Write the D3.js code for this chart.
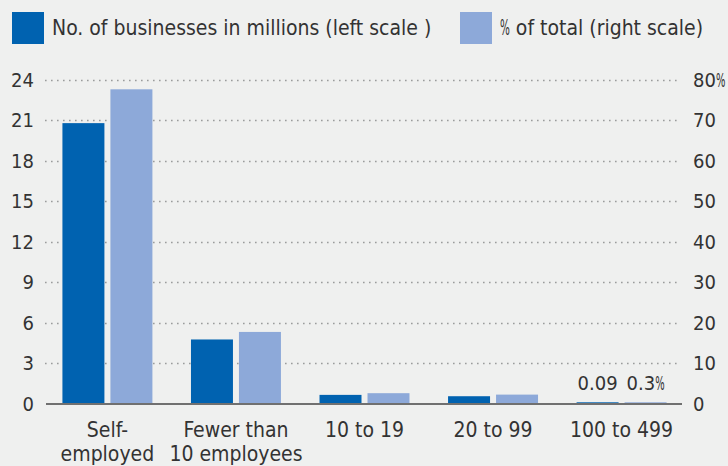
<!DOCTYPE html>
<html>
<head>
<meta charset="utf-8">
<script src="https://cdn.jsdelivr.net/npm/d3@7"></script>
<style>
  body { margin: 0; background: #eff0ef; }
  svg { display: block; font-family: "Liberation Sans Narrow", "DejaVu Sans Condensed", sans-serif; }
</style>
</head>
<body>
<svg id="chart"></svg>
<script>
// data
const categories = ['Self-employed', 'Fewer than 10 employees', '10 to 19', '20 to 99', '100 to 499'];
const catLines = [['Self-', 'employed'], ['Fewer than', '10 employees'], ['10 to 19'], ['20 to 99'], ['100 to 499']];
const businesses = [20.8, 4.75, 0.64, 0.54, 0.09];   // millions, left scale
const pctTotal = [77.7, 17.7, 2.55, 2.2, 0.3];       // %, right scale
const leftTicks = [0, 3, 6, 9, 12, 15, 18, 21, 24];
const rightTicks = [0, 10, 20, 30, 40, 50, 60, 70, 80];
const seriesNames = ['No. of businesses in millions (left scale )', '% of total (right scale)'];

const W = 728, H = 466;
const dark = '#0062b0', light = '#8da9d9';
const textCol = '#333';

const svg = d3.select('#chart').attr('width', W).attr('height', H);

const x = d3.scaleBand()
    .domain(categories)
    .range([47, 682])
    .paddingInner(0.3)
    .paddingOuter(0.12);

const yL = d3.scaleLinear().domain([0, 24]).range([403.5, 80]);
const yR = d3.scaleLinear().domain([0, 80]).range([403.5, 80]);

const barW = (x.bandwidth() - 6) / 2;

// narrow, full-height % sign like the original
function pctText(parent, px, py, num, rest, size, anchor) {
    const t = parent.append('text')
        .attr('x', px).attr('y', py).attr('dy', '0.35em')
        .attr('font-size', size).attr('fill', textCol)
        .text(num);
    const w = num === '' ? 0 : t.node().getComputedTextLength();
    const p = parent.append('text')
        .attr('font-size', size).attr('fill', textCol)
        .attr('dy', '0.35em')
        .text('%');
    const pw = p.node().getComputedTextLength() * 0.55;
    const r = parent.append('text')
        .attr('font-size', size).attr('fill', textCol)
        .attr('dy', '0.35em')
        .style('white-space', 'pre')
        .text(rest);
    const rw = rest ? r.node().getComputedTextLength() : 0;
    let x0 = px;
    if (anchor === 'middle') x0 = px - (w + pw + rw) / 2;
    t.attr('x', x0);
    p.attr('transform', `translate(${x0 + w},${py}) scale(0.55,1)`);
    r.attr('x', x0 + w + pw).attr('y', py);
}

// gridlines
svg.append('g')
    .selectAll('line')
    .data(leftTicks.filter(d => d > 0))
    .join('line')
    .attr('x1', 45).attr('x2', 681)
    .attr('y1', d => Math.round(yL(d)) + 0.5)
    .attr('y2', d => Math.round(yL(d)) + 0.5)
    .attr('stroke', '#9a9c9c')
    .attr('stroke-width', 1.6)
    .attr('stroke-dasharray', '1.6,4.4');

// bars
const g = svg.append('g');
g.selectAll('.b1')
    .data(categories)
    .join('rect')
    .attr('x', d => x(d))
    .attr('width', barW)
    .attr('y', (d, i) => yL(businesses[i]))
    .attr('height', (d, i) => yL(0) - yL(businesses[i]))
    .attr('fill', dark);

g.selectAll('.b2')
    .data(categories)
    .join('rect')
    .attr('x', d => x(d) + barW + 6)
    .attr('width', barW)
    .attr('y', (d, i) => yR(pctTotal[i]))
    .attr('height', (d, i) => yR(0) - yR(pctTotal[i]))
    .attr('fill', light);

// baseline
svg.append('line')
    .attr('x1', 46).attr('x2', 682)
    .attr('y1', yL(0) + 0.5).attr('y2', yL(0) + 0.5)
    .attr('stroke', '#707070')
    .attr('stroke-width', 2);

// left axis labels
svg.append('g')
    .selectAll('text')
    .data(leftTicks)
    .join('text')
    .attr('x', 34)
    .attr('y', d => yL(d))
    .attr('dy', '0.35em')
    .attr('text-anchor', 'end')
    .attr('font-size', 20)
    .attr('fill', textCol)
    .text(d => d);

// right axis labels
const rg = svg.append('g');
rightTicks.forEach(d => {
    if (d === rightTicks[rightTicks.length - 1]) pctText(rg, 693, yR(d), d, '', 20);
    else rg.append('text')
        .attr('x', 693).attr('y', yR(d)).attr('dy', '0.35em')
        .attr('font-size', 20).attr('fill', textCol)
        .text(d);
});

// category labels
const cl = svg.append('g')
    .selectAll('text')
    .data(categories)
    .join('text')
    .attr('x', d => x(d) + x.bandwidth() / 2)
    .attr('y', 437)
    .attr('text-anchor', 'middle')
    .attr('font-size', 21)
    .attr('fill', textCol);
cl.selectAll('tspan')
    .data((d, i) => catLines[i])
    .join('tspan')
    .attr('x', function() { return this.parentNode.getAttribute('x'); })
    .attr('dy', (d, i) => i === 0 ? 0 : 24)
    .text(d => d);

// value labels on last group
const last = categories[categories.length - 1];
svg.append('text')
    .attr('x', x(last) + barW / 2)
    .attr('y', 383)
    .attr('dy', '0.35em')
    .attr('text-anchor', 'middle')
    .attr('font-size', 20)
    .attr('fill', textCol)
    .text(businesses[businesses.length - 1]);
pctText(svg, x(last) + barW * 1.5 + 6, 383, pctTotal[pctTotal.length - 1], '', 20, 'middle');

// legend
const legX = [12, 460];
seriesNames.forEach((name, i) => {
    const lg = svg.append('g').attr('transform', `translate(${legX[i]},12)`);
    lg.append('rect')
        .attr('width', 32).attr('height', 32)
        .attr('fill', i === 0 ? dark : light);
    if (name.startsWith('%')) pctText(lg, 40, 16, '', name.slice(1), 21);
    else lg.append('text')
        .attr('x', 40).attr('y', 16).attr('dy', '0.35em')
        .attr('font-size', 21).attr('fill', textCol)
        .text(name);
});
</script>
</body>
</html>
